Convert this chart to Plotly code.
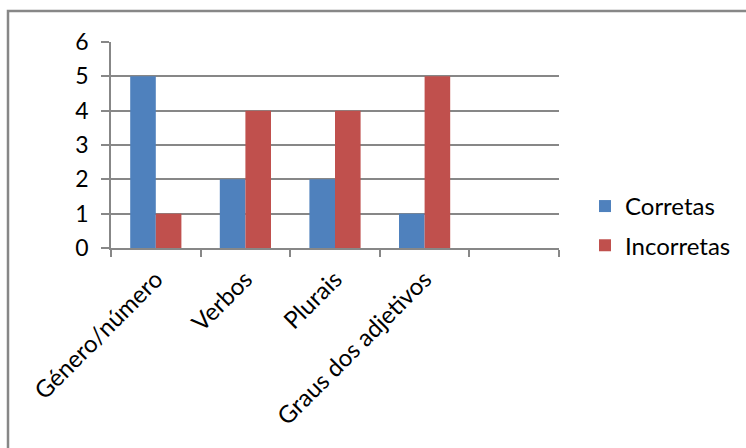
import plotly.graph_objects as go

# Categorias avaliadas (a última coluna do eixo fica vazia)
categorias = ["Género/número", "Verbos", "Plurais", "Graus dos adjetivos", " "]
corretas = [5, 2, 2, 1, None]
incorretas = [1, 4, 4, 5, None]

AZUL = "#4F81BD"
VERMELHO = "#C0504D"
CINZA = "#878787"
FONTE = "Lato, Carlito, Calibri, sans-serif"

W, H = 746, 448
L, R, T, B = 111, 187, 42, 200

fig = go.Figure()
fig.add_trace(go.Bar(name="Corretas", x=categorias, y=corretas,
                     marker=dict(color=AZUL, line=dict(width=0)),
                     legendgroup="a"))
fig.add_trace(go.Bar(name="Incorretas", x=categorias, y=incorretas,
                     marker=dict(color=VERMELHO, line=dict(width=0)),
                     legendgroup="b"))

# moldura cinzenta do gráfico (em coordenadas de pixel convertidas para "paper")
pw, ph = W - L - R, H - T - B
def px_x(v):
    return (v - L) / pw
def px_y(v):
    return (H - B - v) / ph

fig.add_shape(type="rect", xref="paper", yref="paper",
              x0=px_x(8), x1=px_x(W + 20), y0=px_y(11), y1=px_y(H + 20),
              line=dict(color=CINZA, width=2.5), fillcolor="rgba(0,0,0,0)",
              layer="below")

fig.update_layout(
    width=W, height=H,
    margin=dict(l=L, r=R, t=T, b=B, pad=0, autoexpand=False),
    paper_bgcolor="white", plot_bgcolor="white",
    barmode="group", bargap=0.4286, bargroupgap=0,
    font=dict(family=FONTE, color="#000000", size=24),
    showlegend=True,
    legend=dict(x=1.058, xanchor="left", y=0.107, yanchor="middle",
                xref="paper", yref="paper",
                font=dict(family=FONTE, size=24, color="#000000"),
                traceorder="grouped", tracegroupgap=5,
                itemwidth=30, bgcolor="rgba(0,0,0,0)"),
    xaxis=dict(type="category", categoryorder="array", categoryarray=categorias,
               range=[-0.5, 4.5], tickson="boundaries", automargin=False,
               ticks="outside", ticklen=7, tickcolor=CINZA, tickwidth=1.5,
               showline=True, linecolor=CINZA, linewidth=1.5,
               showgrid=False, tickangle=-45, ticklabelstandoff=6,
               tickfont=dict(family=FONTE, size=24, color="#000000")),
    yaxis=dict(range=[0, 6], dtick=1, tick0=0, automargin=False,
               ticks="outside", ticklen=8, tickcolor=CINZA, tickwidth=1.5,
               showline=True, linecolor=CINZA, linewidth=1.5,
               showgrid=True, gridcolor=CINZA, gridwidth=1.5,
               zeroline=False, ticklabelstandoff=8,
               tickfont=dict(family=FONTE, size=23, color="#000000")),
)

fig.write_html("out.html")
